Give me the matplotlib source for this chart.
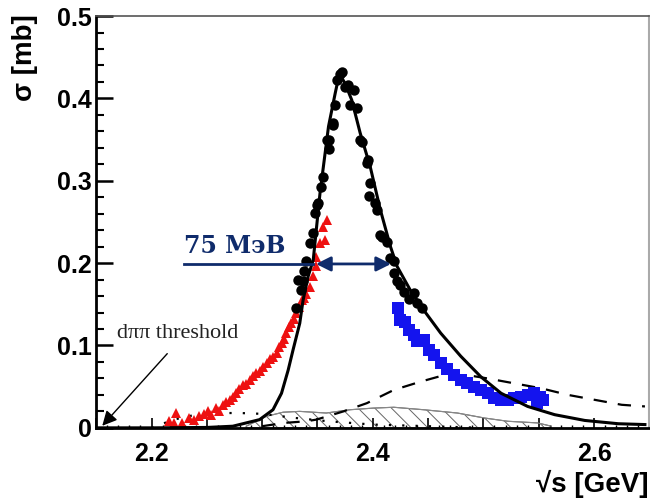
import matplotlib
matplotlib.use("Agg")
import matplotlib.pyplot as plt
from matplotlib.ticker import MultipleLocator, FuncFormatter

# data
# WASA pp -> d pi0 pi0 (black circles)
circ_x = [2.331, 2.3325, 2.3347, 2.337, 2.3377, 2.340, 2.343, 2.346, 2.3477, 2.350,
          2.3507, 2.353, 2.3553, 2.359, 2.360, 2.3607, 2.3638, 2.3644, 2.366, 2.368,
          2.3705, 2.372, 2.375, 2.378, 2.3795, 2.3826, 2.386, 2.3886, 2.390, 2.3947,
          2.3953, 2.3962, 2.3977, 2.4023, 2.4038, 2.4068, 2.4084, 2.413, 2.4153, 2.419,
          2.4195, 2.422, 2.425, 2.4286, 2.4325, 2.437, 2.440, 2.4447]
circ_y = [0.145, 0.180, 0.167, 0.178, 0.190, 0.202, 0.224, 0.236, 0.261, 0.271,
          0.273, 0.293, 0.305, 0.350, 0.350, 0.339, 0.370, 0.368, 0.392, 0.422,
          0.430, 0.432, 0.414, 0.416, 0.392, 0.410, 0.388, 0.350, 0.347, 0.322,
          0.325, 0.281, 0.297, 0.273, 0.265, 0.234, 0.232, 0.226, 0.206, 0.202,
          0.188, 0.178, 0.174, 0.165, 0.157, 0.164, 0.151, 0.145]

# pp -> d pi+ pi- (red triangles)
tri_x = [2.216, 2.2205, 2.222, 2.228, 2.234, 2.238, 2.243, 2.247, 2.2507, 2.254,
         2.2584, 2.261, 2.2644, 2.267, 2.2705, 2.2735, 2.2765, 2.2795, 2.2826, 2.2856,
         2.2886, 2.2917, 2.2947, 2.298, 2.301, 2.304, 2.307, 2.310, 2.313, 2.315,
         2.3175, 2.320, 2.322, 2.324, 2.3265, 2.329, 2.331, 2.3335, 2.3357, 2.338,
         2.340, 2.343, 2.346, 2.349, 2.349, 2.352, 2.3547, 2.3568, 2.3584]
tri_y = [0.008, 0.006, 0.018, 0.006, 0.012, 0.010, 0.014, 0.017, 0.020, 0.016,
         0.024, 0.021, 0.028, 0.031, 0.034, 0.037, 0.042, 0.047, 0.052, 0.053,
         0.058, 0.063, 0.066, 0.069, 0.074, 0.079, 0.083, 0.086, 0.091, 0.098,
         0.103, 0.108, 0.115, 0.122, 0.127, 0.132, 0.139, 0.147, 0.155, 0.158,
         0.163, 0.171, 0.184, 0.196, 0.208, 0.224, 0.244, 0.228, 0.252]

# blue squares
sq_x = [2.4225, 2.425, 2.4295, 2.4326, 2.437, 2.440, 2.446, 2.4507, 2.4553, 2.4614,
        2.4675, 2.4735, 2.4795, 2.4856, 2.4916, 2.4977, 2.5038, 2.510, 2.516, 2.522,
        2.528, 2.534, 2.540, 2.546, 2.548, 2.551, 2.554]
sq_y = [0.145, 0.131, 0.129, 0.119, 0.113, 0.105, 0.107, 0.095, 0.089, 0.079,
        0.072, 0.064, 0.058, 0.054, 0.050, 0.046, 0.042, 0.036, 0.034, 0.034,
        0.036, 0.038, 0.040, 0.042, 0.030, 0.038, 0.034]

# fit curve (solid)
fit_x = [2.15, 2.20, 2.25, 2.2735, 2.2977, 2.3098, 2.3175, 2.3235, 2.328, 2.334,
         2.337, 2.3416, 2.3462, 2.3523, 2.360, 2.366, 2.3698, 2.375, 2.381, 2.3886,
         2.3977, 2.4068, 2.416, 2.422, 2.434, 2.446, 2.4614, 2.4795, 2.4977, 2.516,
         2.540, 2.5644, 2.5916, 2.622, 2.646]
fit_y = [0.0, 0.0, 0.0005, 0.002, 0.010, 0.022, 0.042, 0.070, 0.095, 0.127,
         0.155, 0.184, 0.204, 0.285, 0.366, 0.406, 0.430, 0.418, 0.398, 0.358,
         0.317, 0.265, 0.220, 0.196, 0.167, 0.143, 0.115, 0.087, 0.062, 0.042,
         0.026, 0.016, 0.009, 0.005, 0.004]

# dashed curve
dash_x = [2.30, 2.32, 2.340, 2.349, 2.3735, 2.3947, 2.419, 2.443, 2.4644, 2.4856,
          2.5038, 2.528, 2.5523, 2.5765, 2.6007, 2.625, 2.646]
dash_y = [0.002, 0.006, 0.008, 0.010, 0.020, 0.030, 0.046, 0.056, 0.064, 0.064,
          0.060, 0.054, 0.048, 0.040, 0.034, 0.028, 0.026]

# dotted curve
dot_x = [2.20, 2.22, 2.24, 2.26, 2.28, 2.30, 2.33, 2.36, 2.40, 2.45, 2.50]
dot_y = [0.0, 0.010, 0.016, 0.018, 0.018, 0.017, 0.012, 0.008, 0.004, 0.002, 0.0]

# hatched band
band_x = [2.2856, 2.3038, 2.319, 2.334, 2.358, 2.3795, 2.4007, 2.419, 2.446, 2.4765,
          2.5007, 2.522, 2.549, 2.5614]
band_y = [0.002, 0.014, 0.019, 0.020, 0.018, 0.022, 0.024, 0.025, 0.022, 0.018,
          0.012, 0.008, 0.006, 0.002]

fig = plt.figure(figsize=(6.5, 5.01), dpi=100)
ax = fig.add_axes([0.148, 0.146, 0.851, 0.822])

plt.rcParams['hatch.linewidth'] = 0.7
ax.fill_between(band_x, 0, band_y, facecolor='none', edgecolor='#666666',
                hatch='\\\\', linewidth=0.8)
ax.plot(band_x, band_y, color='#888888', lw=0.8)
ax.plot(dot_x, dot_y, color='black', lw=1.6, linestyle=(0, (1, 5)))
ax.plot(dash_x, dash_y, color='black', lw=1.6, linestyle=(0, (6, 5)))

ax.plot(tri_x, tri_y, '^', color='#ee1111', markersize=7.5, markeredgewidth=0)
ax.plot(sq_x, sq_y, 's', color='#1414ee', markersize=8, markeredgewidth=0)
ax.plot(circ_x, circ_y, 'o', color='black', markersize=7.5, markeredgewidth=0)
ax.plot(fit_x, fit_y, color='black', lw=2.2)

# width arrow
navy = '#0f2b6b'
ax.plot([2.2295, 2.3462], [0.199, 0.199], color=navy, lw=2)
ax.annotate('', xy=(2.3462, 0.199), xytext=(2.419, 0.199),
            arrowprops=dict(arrowstyle='<|-|>', color=navy, lw=2, mutation_scale=22))
ax.text(2.2295, 0.221, '75 МэВ', color=navy, fontsize=17, fontweight='bold',
        family='DejaVu Serif', ha='left', va='center')

# threshold
ax.annotate('', xy=(2.1538, 0.0), xytext=(2.2159, 0.0926),
            arrowprops=dict(arrowstyle='-|>', color='black', lw=1, mutation_scale=22))
ax.text(2.1686, 0.114, 'dππ threshold', fontsize=16, family='Liberation Serif',
        color='#222222', ha='left', va='center')

ax.set_xlim(2.15, 2.65)
ax.set_ylim(0, 0.5)

ax.xaxis.set_major_locator(MultipleLocator(0.05))
ax.xaxis.set_minor_locator(MultipleLocator(0.01))
ax.xaxis.set_major_formatter(FuncFormatter(
    lambda v, p: f'{v:.1f}' if abs(v * 5 - round(v * 5)) < 1e-6 else ''))
ax.yaxis.set_major_locator(MultipleLocator(0.1))
ax.yaxis.set_minor_locator(MultipleLocator(0.02))
ax.yaxis.set_major_formatter(FuncFormatter(lambda v, p: '0' if v == 0 else f'{v:.1f}'))

tfont = dict(family='Liberation Sans', weight='bold', size=18)
for lab in ax.get_xticklabels() + ax.get_yticklabels():
    lab.set_fontproperties(matplotlib.font_manager.FontProperties(**tfont))

ax.tick_params(axis='y', which='major', direction='in', length=12, width=1.8, pad=3,
               labelsize=18)
ax.tick_params(axis='y', which='minor', direction='in', length=6, width=1.5)
ax.tick_params(axis='x', which='major', direction='in', length=7, width=1.2, pad=10,
               labelsize=18)
ax.tick_params(axis='x', which='minor', direction='in', length=2.5, width=1)

ax.spines['left'].set_linewidth(2)
ax.spines['bottom'].set_linewidth(2)
ax.spines['top'].set_color('#555555')
ax.spines['top'].set_linewidth(1.2)
ax.spines['right'].set_color('#aaaaaa')
ax.spines['right'].set_linewidth(1.5)

fig.text(0.038, 0.972, 'σ [mb]', rotation=90, ha='center', va='top',
         fontsize=20, fontweight='bold', family='Liberation Sans')
fig.text(0.997, 0.035, '√s [GeV]', ha='right', va='center',
         fontsize=20, fontweight='bold', family='Liberation Sans')

fig.savefig('out.png', dpi=100)
